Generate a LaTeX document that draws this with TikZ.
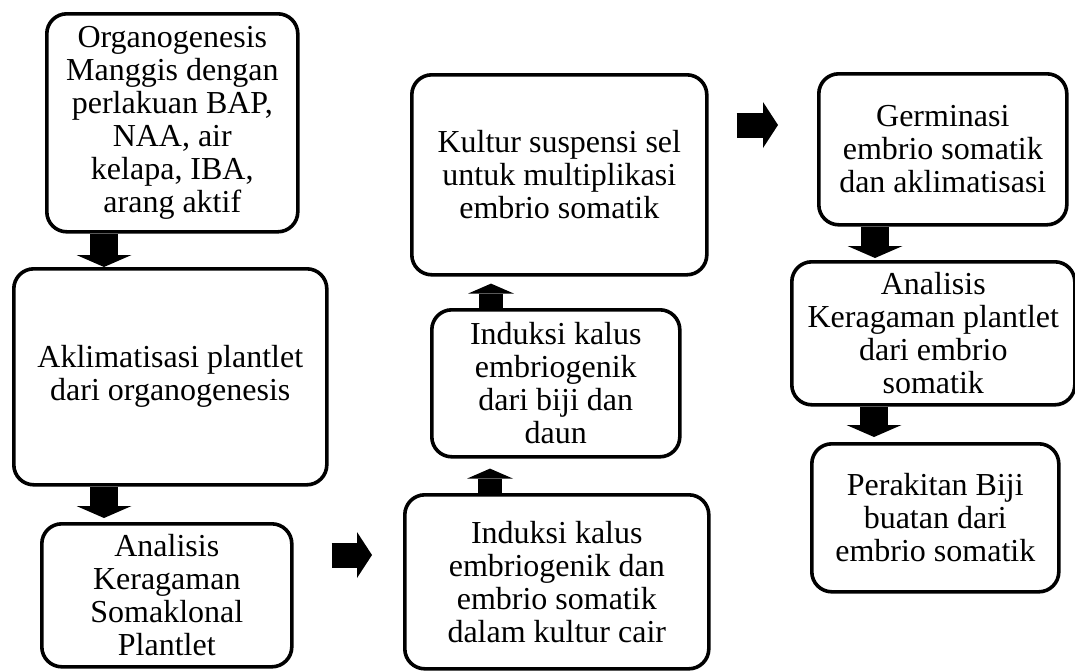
\documentclass[tikz,border=0pt]{standalone}
\usepackage{fontspec}
\setmainfont{Liberation Serif}
\usetikzlibrary{
  arrows.meta,
  positioning,
  calc
}
\tikzset{
  stagebox/.style={
    draw, line width=1.8pt, rounded corners=10pt, align=center,
    anchor=north west, inner sep=2pt, font=\fontsize{16}{16.5}\selectfont
  },
  arrdown/.style={line width=14pt, -{Triangle[width=27.5pt, length=6pt, line width=0pt]}},
  arrup/.style={line width=12pt, -{Triangle[width=23pt, length=5pt, line width=0pt]}},
  arrright/.style={line width=12.5pt, -{Triangle[width=23pt, length=7.5pt, line width=0pt]}}
}

\begin{document}
\begin{tikzpicture}[x=0.5pt, y=-0.5pt]
  \useasboundingbox (0,0) rectangle (1075,671);
  % kolom kiri
  \node[stagebox, minimum width=125.5pt, minimum height=109pt] (org) at (45,12)
    {Organogenesis\\Manggis dengan\\perlakuan BAP,\\NAA, air\\kelapa, IBA,\\arang aktif};
  \node[stagebox, minimum width=156.5pt, minimum height=108pt] (akl) at (12,267)
    {Aklimatisasi plantlet\\dari organogenesis};
  \node[stagebox, minimum width=125pt, minimum height=71.5pt] (ana1) at (40,522)
    {Analisis\\Keragaman\\Somaklonal\\Plantlet};
  % kolom tengah
  \node[stagebox, minimum width=147.5pt, minimum height=100pt] (kul) at (410,73)
    {Kultur suspensi sel\\untuk multiplikasi\\embrio somatik};
  \node[stagebox, minimum width=124pt, minimum height=73.5pt] (ind1) at (430,308)
    {Induksi kalus\\embriogenik\\dari biji dan\\daun};
  \node[stagebox, minimum width=152pt, minimum height=87pt] (ind2) at (403,493)
    {Induksi kalus\\embriogenik dan\\embrio somatik\\dalam kultur cair};
  % kolom kanan
  \node[stagebox, minimum width=124pt, minimum height=75.5pt] (ger) at (817,72)
    {Germinasi\\embrio somatik\\dan aklimatisasi};
  \node[stagebox, minimum width=141.5pt, minimum height=71.5pt] (ana2) at (790,260)
    {Analisis\\Keragaman plantlet\\dari embrio\\somatik};
  \node[stagebox, minimum width=123.5pt, minimum height=74pt] (per) at (810,442)
    {Perakitan Biji\\buatan dari\\embrio somatik};

  \draw[arrdown] (org.south -| 104,0) -- (akl.north -| 104,0);
  \draw[arrdown] (akl.south -| 104,0) -- ([yshift=2pt]ana1.north -| 104,0);
  \draw[arrright] ([xshift=19pt]ana1.east |- 0,555) -- ([xshift=-15.5pt]ind2.west |- 0,555);
  \draw[arrup] (ind2.north -| 490,0) -- ([yshift=-5pt]ind1.south -| 490,0);
  \draw[arrup] (ind1.north -| 491,0) -- ([yshift=-3.5pt]kul.south -| 491,0);
  \draw[arrright] ([xshift=14pt]kul.east |- 0,125) -- ([xshift=-19.5pt]ger.west |- 0,125);
  \draw[arrdown] (ger.south -| 875,0) -- ([yshift=1pt]ana2.north -| 875,0);
  \draw[arrdown] (ana2.south -| 874,0) -- ([yshift=2.5pt]per.north -| 874,0);
\end{tikzpicture}
\end{document}
